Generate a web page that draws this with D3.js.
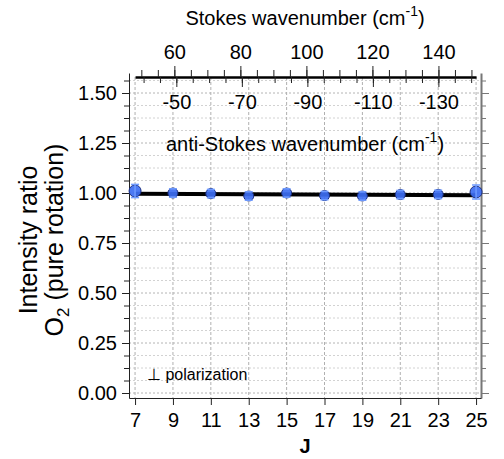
<!DOCTYPE html>
<html>
<head>
<meta charset="utf-8">
<script src="https://cdn.jsdelivr.net/npm/d3@7/dist/d3.min.js"></script>
<style>
  html, body { margin: 0; padding: 0; background: #fff; }
  svg { display: block; font-family: "Liberation Sans", Arial, sans-serif; }
</style>
</head>
<body>
<svg id="chart" width="504" height="459"></svg>
<script>
// Rotational quantum number J and the measured intensity ratio
const jValues = [7, 9, 11, 13, 15, 17, 19, 21, 23, 25];
const ratio = [1.010, 1.000, 0.997, 0.985, 1.000, 0.987, 0.985, 0.992, 0.993, 1.005];
const ratioErr = [0.033, 0.021, 0.021, 0.021, 0.021, 0.021, 0.021, 0.021, 0.021, 0.035];
// Linear fit through the ratios, evaluated at the ends of the J range
const fitJ = [7, 25];
const fitRatio = [0.996, 0.989];

// Axis ranges and tick labels
const jDomain = [6.68, 25.26];
const yDomain = [-0.025, 1.6];
const yMajorTicks = [0, 0.25, 0.5, 0.75, 1.0, 1.25, 1.5];
const yMinorStep = 0.0625;
const stokesAtJ = [48.1, 151.4];      // Stokes shift (cm-1) at J = 7 and J = 25
const antiStokesAtJ = [-37.4, -141.5]; // anti-Stokes shift (cm-1) at J = 7 and J = 25
const stokesTicks = [60, 80, 100, 120, 140];
const antiStokesTicks = [-50, -70, -90, -110, -130];

(function () {
const svg = d3.select("#chart");
const pLeft = 129, pRight = 481, pTop = 73, pBottom = 398;
const tickFont = 20;

const x = d3.scaleLinear().domain(jDomain).range([pLeft, pRight]);
const y = d3.scaleLinear().domain(yDomain).range([pBottom, pTop]);
const stokes = d3.scaleLinear().domain(stokesAtJ).range([x(7), x(25)]);
const antiStokes = d3.scaleLinear().domain(antiStokesAtJ).range([x(7), x(25)]);
const topLineY = 77;

const yMinorTicks = d3.range(0, 1.6, yMinorStep);

// Grid
const grid = svg.append("g").attr("class", "grid");
grid.selectAll("line.h").data(yMinorTicks).join("line")
  .attr("x1", pLeft).attr("x2", pRight)
  .attr("y1", d => y(d)).attr("y2", d => y(d))
  .attr("stroke", d => (Math.abs(d / 0.25 - Math.round(d / 0.25)) < 1e-6) ? "#b4b4b4" : "#d2d2d2")
  .attr("stroke-width", 1).attr("stroke-dasharray", "2,2");
grid.selectAll("line.v").data(jValues).join("line")
  .attr("x1", d => x(d)).attr("x2", d => x(d))
  .attr("y1", topLineY).attr("y2", pBottom)
  .attr("stroke", "#b0b0b0").attr("stroke-width", 1).attr("stroke-dasharray", "3,2");

function styleAxis(g, color, fontSize) {
  g.attr("font-family", null).attr("font-size", fontSize);
  g.selectAll("path.domain").attr("stroke", color);
  g.selectAll(".tick line").attr("stroke", color);
  g.selectAll(".tick text").attr("fill", "#000");
}

// Left axis: minor then major ticks
svg.append("g").attr("transform", `translate(${pLeft},0)`)
  .call(d3.axisLeft(y).tickValues(yMinorTicks).tickSize(5).tickSizeOuter(0).tickFormat(""))
  .call(g => styleAxis(g, "#222", tickFont));
svg.append("g").attr("transform", `translate(${pLeft},0)`)
  .call(d3.axisLeft(y).tickValues(yMajorTicks).tickSize(7).tickSizeOuter(0).tickPadding(5).tickFormat(d3.format(".2f")))
  .call(g => styleAxis(g, "#222", tickFont))
  .call(g => g.select("path.domain").remove());

// Right axis (mirror, no labels)
svg.append("g").attr("transform", `translate(${pRight},0)`)
  .call(d3.axisRight(y).tickValues(yMinorTicks).tickSize(5).tickSizeOuter(0).tickFormat(""))
  .call(g => styleAxis(g, "#777", tickFont))
  .call(g => g.select("path.domain").attr("stroke-width", 2));
svg.append("g").attr("transform", `translate(${pRight},0)`)
  .call(d3.axisRight(y).tickValues(yMajorTicks).tickSize(8).tickSizeOuter(0).tickFormat(""))
  .call(g => styleAxis(g, "#777", tickFont))
  .call(g => g.select("path.domain").remove());

// Bottom J axis
svg.append("g").attr("transform", `translate(0,${pBottom})`)
  .call(d3.axisBottom(x).tickValues(jValues).tickSize(7).tickSizeOuter(0).tickPadding(8).tickFormat(d3.format("d")))
  .call(g => styleAxis(g, "#222", tickFont));

// Top Stokes axis (ticks upward)
const stokesMinor = d3.range(50, 151, 5);
svg.append("g").attr("transform", `translate(0,${topLineY})`)
  .call(d3.axisTop(stokes).tickValues(stokesMinor).tickSize(7).tickSizeOuter(0).tickFormat(""))
  .call(g => styleAxis(g, "#222", tickFont))
  .call(g => g.select("path.domain").attr("stroke", "#000").attr("stroke-width", 2.5));
svg.append("g").attr("transform", `translate(0,${topLineY})`)
  .call(d3.axisTop(stokes).tickValues(stokesTicks).tickSize(11).tickSizeOuter(0).tickPadding(7).tickFormat(d3.format("d")))
  .call(g => styleAxis(g, "#222", tickFont))
  .call(g => g.select("path.domain").remove());

// anti-Stokes axis (ticks downward, labels inside the plot)
const antiMinor = d3.range(-40, -141, -5);
svg.append("g").attr("transform", `translate(0,${topLineY})`)
  .call(d3.axisBottom(antiStokes).tickValues(antiMinor).tickSize(6).tickSizeOuter(0).tickFormat(""))
  .call(g => styleAxis(g, "#222", tickFont))
  .call(g => g.select("path.domain").remove());
svg.append("g").attr("transform", `translate(0,${topLineY})`)
  .call(d3.axisBottom(antiStokes).tickValues(antiStokesTicks).tickSize(10).tickSizeOuter(0).tickPadding(8).tickFormat(d => "-" + Math.abs(d)))
  .call(g => styleAxis(g, "#222", tickFont))
  .call(g => g.select("path.domain").remove());

// Axis titles with cm^-1 superscript
function wavenumberTitle(txt, yPos) {
  const t = svg.append("text").attr("x", (pLeft + pRight) / 2).attr("y", yPos)
    .attr("text-anchor", "middle").attr("font-size", 20).attr("fill", "#000");
  t.append("tspan").text(txt + " (cm");
  t.append("tspan").attr("font-size", 14).attr("dy", -9).text("-1");
  t.append("tspan").attr("dy", 9).text(")");
}
wavenumberTitle("Stokes wavenumber", 25);
wavenumberTitle("anti-Stokes wavenumber", 151);

svg.append("text").attr("x", (pLeft + pRight) / 2).attr("y", 453)
  .attr("text-anchor", "middle").attr("font-size", 20).attr("font-weight", "bold").text("J");

// Y title, two lines rotated
svg.append("text").attr("transform", "translate(37,240) rotate(-90)")
  .attr("text-anchor", "middle").attr("font-size", 25).text("Intensity ratio");
const t2 = svg.append("text").attr("transform", "translate(63,240) rotate(-90)")
  .attr("text-anchor", "middle").attr("font-size", 25);
t2.append("tspan").text("O");
t2.append("tspan").attr("font-size", 17).attr("dy", 6).text("2");
t2.append("tspan").attr("dy", -6).text(" (pure rotation)");

// Annotation
svg.append("text").attr("x", 147).attr("y", 380).attr("font-size", 16).text("\u22A5 polarization");

// Fit line
svg.append("line")
  .attr("x1", x(fitJ[0])).attr("x2", x(fitJ[1]))
  .attr("y1", y(fitRatio[0])).attr("y2", y(fitRatio[1]))
  .attr("stroke", "#000").attr("stroke-width", 4);

// Markers
const pts = jValues.map((j, i) => ({ j, r: ratio[i], e: ratioErr[i], end: i === 0 || i === jValues.length - 1 }));
svg.append("g").selectAll("circle").data(pts).join("circle")
  .attr("cx", d => x(d.j)).attr("cy", d => y(d.r))
  .attr("r", d => d.end ? 6 : 5)
  .attr("fill", "#3d6ef2").attr("fill-opacity", 0.92)
  .attr("stroke", "#1c2f80").attr("stroke-width", 1);

// Error bars
const eb = svg.append("g").attr("stroke", "#6f9bff").attr("stroke-width", 1.5);
pts.forEach(d => {
  const cx = x(d.j), y0 = y(d.r - d.e), y1 = y(d.r + d.e);
  eb.append("line").attr("x1", cx).attr("x2", cx).attr("y1", y0).attr("y2", y1).attr("stroke-opacity", d.end ? 1 : 0);
  eb.append("line").attr("x1", cx - 4).attr("x2", cx + 4).attr("y1", y0).attr("y2", y0);
  eb.append("line").attr("x1", cx - 4).attr("x2", cx + 4).attr("y1", y1).attr("y2", y1);
});
})();
</script>
</body>
</html>
